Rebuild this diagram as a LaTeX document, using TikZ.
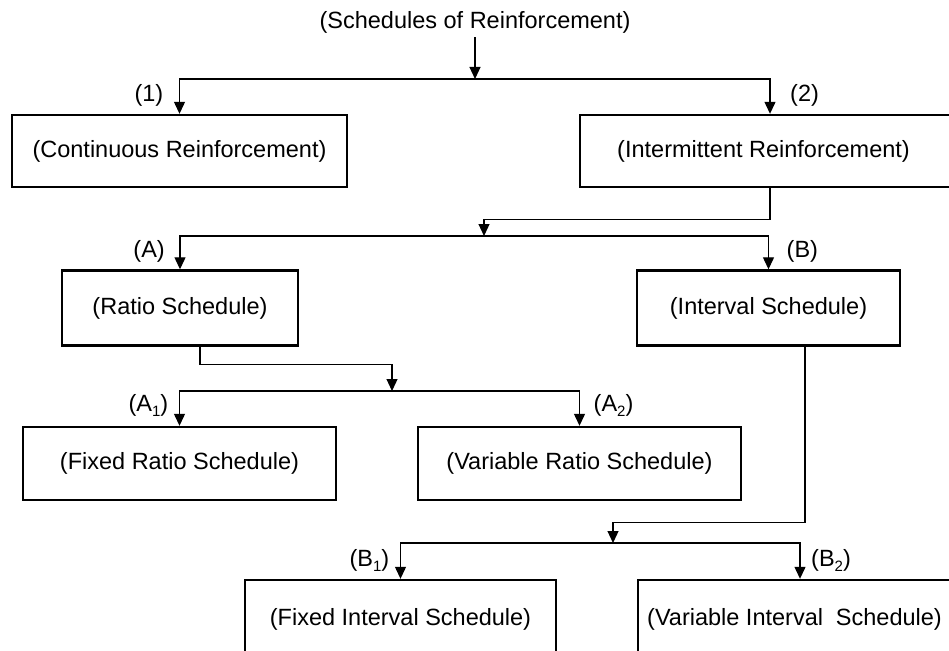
\documentclass[tikz,border=0pt]{standalone}
\usepackage{fontspec}
\setmainfont{Liberation Sans}
\usetikzlibrary{arrows.meta,positioning}
\newcommand{\lblsub}[1]{\raisebox{-5pt}{\fontsize{15}{15}\selectfont #1}}
\tikzset{
  txt/.style={font=\fontsize{23.5}{28}\selectfont},
  box/.style={
    txt,draw,rectangle,line width=2.4pt,inner sep=0pt
  },
  lbl/.style={txt,inner sep=0pt},
  conn/.style={-{Triangle[length=12pt,width=11pt]},line width=1.2pt}
}

\begin{document}
\begin{tikzpicture}[x=1pt,y=-1pt]
\clip (0,0) rectangle (949,650);

\node[txt,anchor=base] (top) at (475,29) {(Schedules of Reinforcement)};

\node[box,minimum width=335pt,minimum height=72pt] (cont) at (179.5,151)
  {(Continuous Reinforcement)};
\node[box,minimum width=380pt,minimum height=72pt] (inter) at (770,151)
  {(Intermittent Reinforcement)\kern13pt};

\node[box,minimum width=236pt,minimum height=75pt] (ratio) at (180,308)
  {(Ratio Schedule)};
\node[box,minimum width=263pt,minimum height=75pt] (interval) at (768.5,308)
  {(Interval Schedule)};

\node[box,minimum width=313pt,minimum height=73pt] (fixratio) at (179.5,463.5)
  {(Fixed Ratio Schedule)};
\node[box,minimum width=323pt,minimum height=73pt] (varratio) at (579.5,463.5)
  {(Variable Ratio Schedule)};

\node[box,minimum width=311pt,minimum height=78pt] (fixint) at (400.5,619)
  {(Fixed Interval Schedule)};
\node[box,minimum width=324pt,minimum height=78pt] (varint) at (800,619)
  {(Variable Interval\hspace{0.55em}Schedule)\kern11pt};

% branch points
\coordinate (s0) at (475,79);
\coordinate (s1) at (484,236);
\coordinate (s2) at (392,391);
\coordinate (s3) at (613,543);

\draw[conn] (top.south) -- (s0);
\draw[conn] (s0) -| (cont.north);
\draw[conn] (s0) -| (inter.north);

\draw[conn] (inter.south) -- ++(0,31) -| (s1);
\draw[conn] (s1) -| (ratio.north);
\draw[conn] (s1) -| (interval.north);

\draw[conn] ([xshift=20pt]ratio.south) -- ++(0,18) -| (s2);
\draw[conn] (s2) -| (fixratio.north);
\draw[conn] (s2) -| (varratio.north);

\draw[conn] ([xshift=36.5pt]interval.south) -- ++(0,176) -| (s3);
\draw[conn] (s3) -| (fixint.north);
\draw[conn] (s3) -| (varint.north);

% branch labels
\node[lbl,anchor=base east] (l1) at ([xshift=-16pt,yshift=12pt]cont.north) {(1)};
\node[lbl,anchor=base west] (l2) at ([xshift=20pt,yshift=12pt]inter.north) {(2)};
\node[lbl,anchor=base east] (lA) at ([xshift=-15pt,yshift=12pt]ratio.north) {(A)};
\node[lbl,anchor=base west] (lB) at ([xshift=18pt,yshift=12pt]interval.north) {(B)};
\node[lbl,anchor=base east] (lA1) at ([xshift=-11pt,yshift=14pt]fixratio.north) {(A\lblsub{1})};
\node[lbl,anchor=base west] (lA2) at ([xshift=14pt,yshift=14pt]varratio.north) {(A\lblsub{2})};
\node[lbl,anchor=base east] (lB1) at ([xshift=-11pt,yshift=12pt]fixint.north) {(B\lblsub{1})};
\node[lbl,anchor=base west] (lB2) at ([xshift=11pt,yshift=12pt]varint.north) {(B\lblsub{2})};

\end{tikzpicture}
\end{document}
